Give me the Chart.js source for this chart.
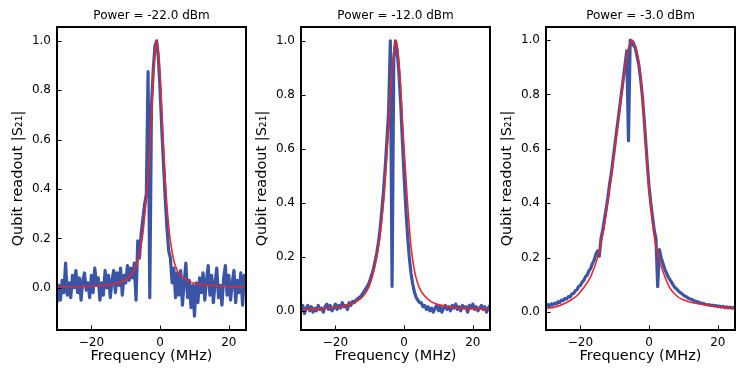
<!DOCTYPE html>
<html>
<head>
<meta charset="utf-8">
<script src="https://cdn.jsdelivr.net/npm/chart.js@4"></script>
<style>
  body { margin: 0; background: #fff; }
  #wrap { position: relative; width: 747px; height: 374px; overflow: hidden; }
  canvas { position: absolute; top: 0; }
</style>
</head>
<body>
<div id="wrap">
  <canvas id="c1" width="249" height="374" style="left:0px"></canvas>
  <canvas id="c2" width="249" height="374" style="left:244px"></canvas>
  <canvas id="c3" width="249" height="374" style="left:489px"></canvas>
</div>
<script>
// sweep frequencies (MHz), shared by the three measured traces
const freq = [
  -30, -29.5, -29, -28.5, -28, -27.5, -27, -26.5, -26, -25.5,
  -25, -24.5, -24, -23.5, -23, -22.5, -22, -21.5, -21, -20.5,
  -20, -19.5, -19, -18.5, -18, -17.5, -17, -16.5, -16, -15.5,
  -15, -14.5, -14, -13.5, -13, -12.5, -12, -11.5, -11, -10.5,
  -10, -9.5, -9, -8.5, -8, -7.5, -7, -6.5, -6, -5.5,
  -5, -4.5, -4, -3.5, -3, -2.5, -2, -1.5, -1, -0.5,
  0, 0.5, 1, 1.5, 2, 2.5, 3, 3.5, 4, 4.5,
  5, 5.5, 6, 6.5, 7, 7.5, 8, 8.5, 9, 9.5,
  10, 10.5, 11, 11.5, 12, 12.5, 13, 13.5, 14, 14.5,
  15, 15.5, 16, 16.5, 17, 17.5, 18, 18.5, 19, 19.5,
  20, 20.5, 21, 21.5, 22, 22.5, 23, 23.5, 24, 24.5,
  25
];

// measured |S21|, normalised
const s21_m22 = [
  -0.06, 0.01, -0.05, 0.03, -0.02, 0.10, -0.03, 0.02, -0.04, 0.05,
  0.00, 0.07, -0.02, 0.04, -0.05, 0.03, 0.06, -0.01, 0.02, -0.04,
  0.05, -0.02, 0.08, 0.01, 0.04, -0.05, 0.02, -0.03, 0.07, 0.00,
  0.05, -0.04, 0.03, 0.07, -0.02, 0.06, 0.01, 0.08, -0.03, 0.05,
  0.02, 0.09, 0.03, 0.08, 0.04, 0.10, -0.05, 0.19, 0.12, 0.22,
  0.28, 0.34, 0.38, 0.875, -0.04, 0.74, 0.88, 0.98, 1.00, 0.93,
  0.80, 0.64, 0.50, 0.36, 0.24, 0.15, 0.12, 0.02, 0.08, -0.04,
  0.06, -0.03, 0.07, -0.07, 0.02, 0.10, -0.04, 0.03, -0.08, 0.01,
  -0.115, 0.02, -0.06, 0.04, -0.02, 0.06, -0.05, 0.03, 0.09, -0.03,
  0.05, -0.06, 0.02, 0.08, -0.04, 0.01, -0.07, 0.04, 0.09, -0.03,
  0.05, -0.05, 0.02, 0.07, -0.06, 0.03, -0.02, 0.06, -0.07, 0.05,
  0.01
];
const s21_m12 = [
  0.00, 0.02, -0.01, 0.01, 0.02, 0.00, 0.015, -0.005, 0.01, 0.00,
  0.02, 0.005, 0.01, -0.005, 0.015, 0.025, 0.005, 0.02, 0.00, 0.01,
  0.025, 0.005, 0.02, 0.01, 0.03, 0.015, 0.02, 0.005, 0.03, 0.02,
  0.035, 0.03, 0.04, 0.045, 0.05, 0.055, 0.065, 0.075, 0.085, 0.095,
  0.11, 0.13, 0.15, 0.18, 0.21, 0.25, 0.30, 0.37, 0.44, 0.53,
  0.63, 0.74, 1.00, 0.09, 0.93, 1.00, 0.96, 0.88, 0.77, 0.63,
  0.50, 0.38, 0.28, 0.20, 0.14, 0.10, 0.07, 0.05, 0.04, 0.03,
  0.03, 0.015, 0.02, 0.005, 0.015, 0.00, 0.01, -0.005, 0.01, 0.02,
  0.00, 0.015, -0.005, 0.01, 0.02, 0.005, 0.015, 0.00, 0.02, 0.01,
  0.025, 0.005, 0.015, 0.00, 0.02, 0.01, 0.015, -0.005, 0.02, 0.01,
  0.025, 0.005, 0.015, 0.00, 0.01, 0.02, 0.005, 0.015, -0.005, 0.01,
  0.02
];
const s21_m3 = [
  0.022, 0.028, 0.02, 0.03, 0.026, 0.033, 0.03, 0.038, 0.035, 0.044,
  0.042, 0.05, 0.048, 0.057, 0.055, 0.066, 0.068, 0.078, 0.082, 0.094,
  0.098, 0.11, 0.116, 0.13, 0.136, 0.152, 0.16, 0.178, 0.19, 0.212,
  0.225, 0.205, 0.27, 0.30, 0.34, 0.38, 0.42, 0.47, 0.51, 0.56,
  0.61, 0.66, 0.71, 0.76, 0.81, 0.86, 0.91, 0.96, 0.63, 1.00,
  0.99, 0.98, 0.97, 0.94, 0.91, 0.86, 0.80, 0.72, 0.63, 0.54,
  0.46, 0.40, 0.35, 0.30, 0.27, 0.093, 0.23, 0.20, 0.18, 0.16,
  0.145, 0.13, 0.12, 0.11, 0.10, 0.09, 0.085, 0.078, 0.072, 0.068,
  0.062, 0.058, 0.055, 0.05, 0.048, 0.046, 0.042, 0.04, 0.038, 0.036,
  0.033, 0.032, 0.03, 0.028, 0.026, 0.027, 0.024, 0.025, 0.022, 0.024,
  0.02, 0.022, 0.018, 0.021, 0.016, 0.019, 0.015, 0.018, 0.014, 0.017,
  0.015
];

// fitted curves
const fitX_m22 = [-30, -25, -20, -15, -12, -10, -8, -7, -6, -5, -4.5, -4, -3.5, -3, -2.5, -2, -1.5, -1, -0.5, 0, 0.5, 1, 1.5, 2, 2.5, 3, 4, 5, 6, 8, 10, 15, 20, 25];
const fitY_m22 = [0.003, 0.004, 0.006, 0.012, 0.02, 0.032, 0.06, 0.09, 0.14, 0.22, 0.29, 0.36, 0.45, 0.56, 0.7, 0.84, 0.95, 1.0, 0.96, 0.86, 0.72, 0.57, 0.44, 0.33, 0.25, 0.19, 0.11, 0.07, 0.05, 0.028, 0.018, 0.009, 0.005, 0.003];
const fitX_m12 = [-30, -25, -20, -16, -14, -12, -11, -10, -9, -8, -7, -6, -5, -4, -3.5, -3, -2.5, -2, -1.5, -1, -0.5, 0, 0.5, 1, 2, 3, 4, 5, 6, 8, 10, 15, 20, 25];
const fitY_m12 = [0.005, 0.008, 0.013, 0.023, 0.033, 0.053, 0.07, 0.097, 0.14, 0.2, 0.28, 0.4, 0.58, 0.79, 0.89, 0.96, 1.0, 0.98, 0.92, 0.83, 0.71, 0.6, 0.5, 0.4, 0.24, 0.15, 0.1, 0.072, 0.055, 0.033, 0.023, 0.012, 0.008, 0.006];
const fitX_m3 = [-30, -27, -24, -21, -19, -17, -15, -13, -11, -9, -8, -7, -6, -5, -4, -3, -2, -1, 0, 1, 2, 3, 4, 6, 8, 10, 13, 16, 20, 25];
const fitY_m3 = [0.013, 0.02, 0.035, 0.06, 0.09, 0.13, 0.2, 0.32, 0.5, 0.7, 0.8, 0.9, 0.97, 1.0, 0.98, 0.92, 0.8, 0.62, 0.45, 0.33, 0.24, 0.19, 0.15, 0.09, 0.06, 0.045, 0.033, 0.027, 0.02, 0.013];

const titles = ['Power = -22.0 dBm', 'Power = -12.0 dBm', 'Power = -3.0 dBm'];
const xTicks = [-20, 0, 20];
const yTicks = [0, 0.2, 0.4, 0.6, 0.8, 1.0];

const BLUE = '#3a55a6';
const RED = '#e8262b';

Chart.defaults.font.family = 'DejaVu Sans';
Chart.defaults.color = '#000';

// black box + inward tick marks, like matplotlib
const frame = {
  id: 'frame',
  afterDatasetsDraw(chart) {
    const { ctx, chartArea: a, scales: { x, y } } = chart;
    ctx.save();
    ctx.strokeStyle = '#000';
    ctx.lineWidth = 1;
    xTicks.forEach(function (v) {
      const px = Math.round(x.getPixelForValue(v)) + 0.5;
      ctx.beginPath();
      ctx.moveTo(px, a.bottom);
      ctx.lineTo(px, a.bottom - 4.5);
      ctx.stroke();
    });
    yTicks.forEach(function (v) {
      const py = Math.round(y.getPixelForValue(v)) + 0.5;
      ctx.beginPath();
      ctx.moveTo(a.left, py);
      ctx.lineTo(a.left + 4.5, py);
      ctx.stroke();
    });
    ctx.lineWidth = 2;
    ctx.strokeRect(a.left, a.top, a.right - a.left, a.bottom - a.top);
    ctx.restore();
  }
};

function pts(xs, ys) {
  return xs.map(function (x, i) { return { x: x, y: ys[i] }; });
}

function makeChart(id, title, meas, fitX, fitY, yMin, yMax) {
  return new Chart(document.getElementById(id), {
    type: 'line',
    data: {
      datasets: [
        {
          label: 'fit',
          data: pts(fitX, fitY),
          borderColor: RED,
          borderWidth: 1.6,
          pointRadius: 0,
          cubicInterpolationMode: 'monotone',
          order: 1,
          clip: 0
        },
        {
          label: 'data',
          data: pts(freq, meas),
          borderColor: BLUE,
          borderWidth: 3.2,
          borderJoinStyle: 'round',
          pointRadius: 0,
          tension: 0,
          order: 2,
          clip: 0
        }
      ]
    },
    options: {
      responsive: false,
      animation: false,
      events: [],
      layout: { padding: { left: 0, right: 3, top: 0, bottom: 0 } },
      plugins: {
        legend: { display: false },
        tooltip: { enabled: false },
        title: {
          display: true,
          text: title,
          fullSize: false,
          color: '#000',
          font: { size: 12, weight: 'normal' },
          padding: { top: 8.2, bottom: 4.4 }
        }
      },
      scales: {
        x: {
          type: 'linear',
          min: -30,
          max: 25,
          afterFit: function (s) { s.height = 44; },
          afterBuildTicks: function (s) { s.ticks = xTicks.map(function (v) { return { value: v }; }); },
          grid: { display: false, drawTicks: false },
          border: { display: false },
          ticks: {
            padding: 6,
            maxRotation: 0,
            font: { size: 12 },
            callback: function (v) { return v < 0 ? '\u2212' + (-v) : String(v); }
          },
          title: {
            display: true,
            text: 'Frequency (MHz)',
            font: { size: 14.5 },
            padding: { top: 0, bottom: 9.5 }
          }
        },
        y: {
          type: 'linear',
          min: yMin,
          max: yMax,
          afterFit: function (s) { s.width = 57; },
          afterBuildTicks: function (s) { s.ticks = yTicks.map(function (v) { return { value: v }; }); },
          grid: { display: false, drawTicks: false },
          border: { display: false },
          ticks: {
            padding: 6,
            font: { size: 12 },
            callback: function (v) { return v.toFixed(1); }
          },
          title: {
            display: true,
            text: 'Qubit readout |S\u2082\u2081|',
            font: { size: 14.5 },
            padding: { top: 10, bottom: 0 }
          }
        }
      }
    },
    plugins: [frame]
  });
}

makeChart('c1', titles[0], s21_m22, fitX_m22, fitY_m22, -0.171, 1.056);
makeChart('c2', titles[1], s21_m12, fitX_m12, fitY_m12, -0.071, 1.051);
makeChart('c3', titles[2], s21_m3, fitX_m3, fitY_m3, -0.066, 1.048);
</script>
</body>
</html>
